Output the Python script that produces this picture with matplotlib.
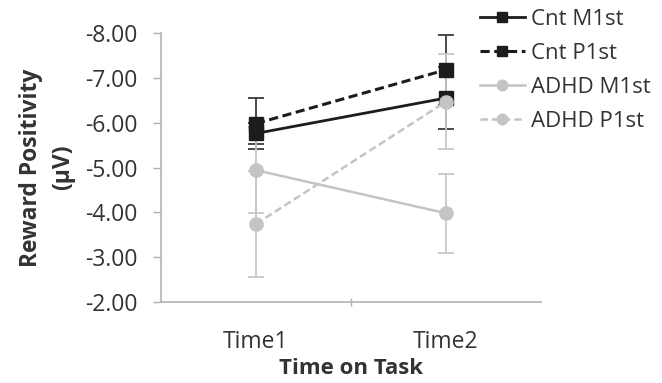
import matplotlib
matplotlib.use("Agg")
import matplotlib.pyplot as plt

plt.rcParams['font.family'] = ['Open Sans', 'DejaVu Sans']

categories = ["Time1", "Time2"]
series_names = ["Cnt M1st", "Cnt P1st", "ADHD M1st", "ADHD P1st"]
cnt_m1st = [-5.76, -6.55]
cnt_p1st = [-5.98, -7.18]
adhd_m1st = [-4.94, -3.98]
adhd_p1st = [-3.74, -6.47]
cnt_m1st_err = [0.24, 0.69]
cnt_p1st_err = [0.57, 0.78]
adhd_m1st_err = [0.96, 0.88]
adhd_p1st_err = [1.18, 1.06]
yticks = [-8, -7, -6, -5, -4, -3, -2]

fig = plt.figure(figsize=(6.62, 3.83), dpi=100)
ax = fig.add_axes([0.2432, 0.2115, 0.5740, 0.7023])

x = list(range(len(categories)))
black = "#1c1c1c"
gray = "#c4c4c4"

styles = [
    (cnt_m1st, cnt_m1st_err, black, "#3a3a3a", "s", "-", 9.5, 2.0),
    (cnt_p1st, cnt_p1st_err, black, "#3a3a3a", "s", "--", 9.5, 2.2),
    (adhd_m1st, adhd_m1st_err, gray, "#c8c8c8", "o", "-", 9.5, 1.8),
    (adhd_p1st, adhd_p1st_err, gray, "#c8c8c8", "o", "--", 9.5, 1.8),
]

handles = []
for i, (vals, errs, col, ecol, mk, ls, ms, lw) in enumerate(styles):
    ax.errorbar(x, vals, yerr=errs, fmt="none", ecolor=ecol, elinewidth=1.3,
                capsize=6, capthick=1.3, zorder=2 + i * 0.1)
    kw = dict(color=col, marker=mk, markersize=ms, linewidth=lw,
              markerfacecolor=col, markeredgecolor=col, zorder=3 + i)
    if ls == "--":
        line, = ax.plot(x, vals, linestyle="--", dashes=(3, 1.5), **kw)
    else:
        line, = ax.plot(x, vals, linestyle="-", **kw)
    handles.append(line)

ax.set_xlim(-0.5, 1.5)
ax.set_ylim(-2, -8)
ax.set_yticks(yticks)
ax.set_yticklabels([f"{v:.2f}" for v in yticks])
ax.set_xticks(x)
ax.set_xticklabels(categories)
ax.set_xticks([0.5], minor=True)
ax.tick_params(axis="x", which="major", length=0, labelsize=16.5, pad=20, colors="#333333")
ax.tick_params(axis="x", which="minor", length=6, direction="inout", color="#b0b0b0", width=1)
ax.tick_params(axis="y", length=6, direction="out", color="#b0b0b0", width=1,
               labelsize=16.5, labelcolor="#333333", pad=11)

for s in ["top", "right"]:
    ax.spines[s].set_visible(False)
for s in ["left", "bottom"]:
    ax.spines[s].set_color("#b4b4b4")
    ax.spines[s].set_linewidth(1.2)

ax.set_ylabel("Reward Positivity\n(µV)", fontsize=16.5, fontweight="bold",
              color="#333333", labelpad=7, linespacing=1.45)
ax.set_xlabel("Time on Task", fontsize=16, fontweight="bold", color="#333333", labelpad=3)

leg = fig.legend(handles, series_names, loc="upper left", bbox_to_anchor=(0.695, 1.03),
                 frameon=False, fontsize=16, handlelength=2.0, handletextpad=0.3,
                 labelspacing=0.59, markerscale=0.8, labelcolor="#333333")

fig.savefig("out.png", dpi=100)
